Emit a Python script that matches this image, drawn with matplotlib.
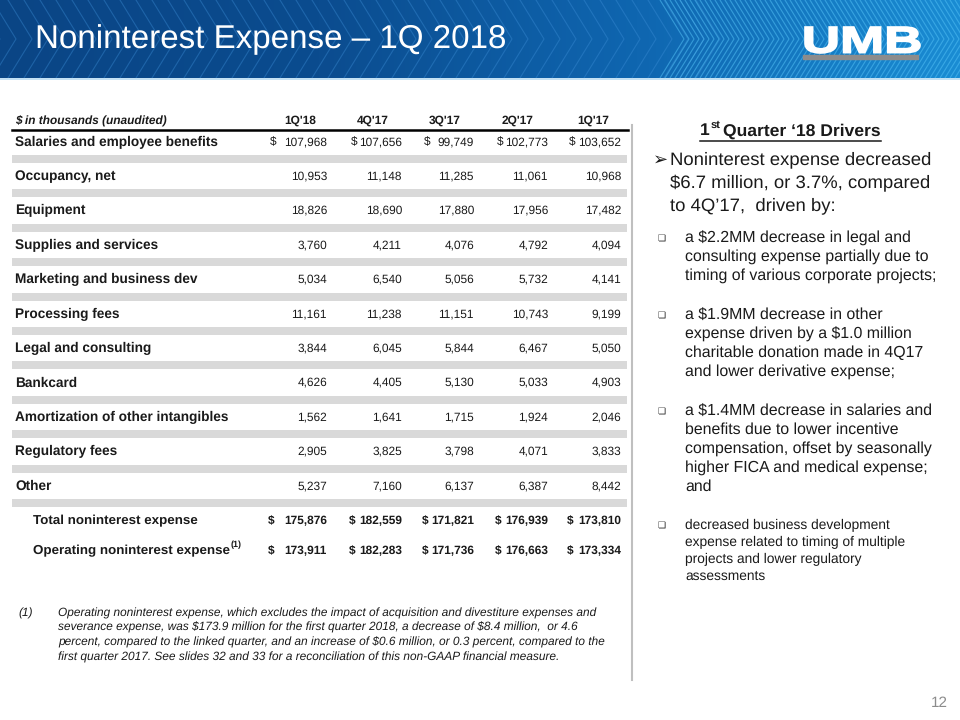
import numpy as np
import matplotlib.pyplot as plt
from matplotlib.colors import LinearSegmentedColormap
from matplotlib.textpath import TextPath
from matplotlib.patches import PathPatch
from matplotlib.font_manager import FontProperties
from matplotlib.transforms import Affine2D

plt.rcParams['font.family'] = ['Liberation Sans', 'DejaVu Sans']
plt.rcParams['text.parse_math'] = False
plt.rcParams['text.hinting'] = 'no_hinting'

# dados da tabela ($ in thousands)
trimestres = ["1Q'18", "4Q'17", "3Q'17", "2Q'17", "1Q'17"]
linhas = ['Salaries and employee benefits', 'Occupancy, net', 'Equipment',
          'Supplies and services', 'Marketing and business dev', 'Processing fees',
          'Legal and consulting', 'Bankcard', 'Amortization of other intangibles',
          'Regulatory fees', 'Other']
q1_18 = [107968, 10953, 18826, 3760, 5034, 11161, 3844, 4626, 1562, 2905, 5237]
q4_17 = [107656, 11148, 18690, 4211, 6540, 11238, 6045, 4405, 1641, 3825, 7160]
q3_17 = [99749, 11285, 17880, 4076, 5056, 11151, 5844, 5130, 1715, 3798, 6137]
q2_17 = [102773, 11061, 17956, 4792, 5732, 10743, 6467, 5033, 1924, 4071, 6387]
q1_17 = [103652, 10968, 17482, 4094, 4141, 9199, 5050, 4903, 2046, 3833, 8442]
total_nie = [175876, 182559, 171821, 176939, 173810]
operating_nie = [173911, 182283, 171736, 176663, 173334]

colunas = [q1_18, q4_17, q3_17, q2_17, q1_17]

fig = plt.figure(figsize=(9.6, 7.2), dpi=100)
ax = fig.add_axes([0, 0, 1, 1])
ax.set_xlim(0, 960)
ax.set_ylim(720, 0)
ax.axis('off')
rend = fig.canvas.get_renderer()
inv = ax.transData.inverted()


def largura(t):
    bb = t.get_window_extent(renderer=rend).transformed(inv)
    return bb.x0, bb.x1


# faixa azul do topo
cmap = LinearSegmentedColormap.from_list('umb', ['#0a4585', '#0b4c8f', '#0f66b0', '#1a8cd3'])
grad = np.linspace(0, 1, 256).reshape(1, -1)
ax.imshow(grad, cmap=cmap, extent=[0, 960, 78, 0], aspect='auto', zorder=0)
for x0 in np.arange(-40, 700, 16):
    ax.plot([x0, x0 + 24, x0], [0, 39, 78], color='#3d8fd8', lw=0.8, alpha=0.4, zorder=1)
for x0 in np.arange(660, 980, 5):
    ax.plot([x0, x0 + 24, x0], [0, 39, 78], color='#52c0f5', lw=0.8, alpha=0.55, zorder=1)
ax.plot([0, 960], [78.5, 78.5], color='#b9dcf2', lw=1.2, zorder=2)

ax.text(35, 40, 'Noninterest Expense \u2013 1Q 2018', color='white', fontsize=23.9,
        va='center', ha='left', zorder=3)

# logo UMB esticado
tp = TextPath((0, 0), 'UMB', size=10, prop=FontProperties(family='Liberation Sans', weight='bold'))
ext = tp.get_extents()
sx = 115 / ext.width
sy = 26 / ext.height
trans = Affine2D().translate(-ext.x0, -ext.y0).scale(sx, -sy).translate(805, 53) + ax.transData
ax.add_patch(PathPatch(tp, facecolor='white', edgecolor='white', lw=1.2, transform=trans, zorder=3))
ax.fill_between([803, 918], 55, 58.5, color='#8c8c8c', zorder=3)

# tabela
dir_col = [327, 402, 474, 548, 621]
dolar_col = [268, 349, 422, 495, 567]
cab_col = [300, 373, 445, 518, 593]
cor_txt = '#1a1a1a'

ax.text(15, 121, '$ in thousands (unaudited)', fontsize=8.6, style='italic',
        fontweight='bold', va='center', color=cor_txt)
for i, q in enumerate(trimestres):
    ax.text(cab_col[i], 121, q, fontsize=8.6, fontweight='bold', ha='center', va='center', color=cor_txt)
ax.plot([12, 628], [129.5, 129.5], color='black', lw=1.8)

passo = 34.4
for r, nome in enumerate(linhas):
    y = 142 + r * passo
    ax.text(15, y, nome, fontsize=9.8, fontweight='bold', va='center', color=cor_txt)
    ax.fill_between([12, 627], y + 13, y + 21, color='#d9d9d9', lw=0)
    for c in range(5):
        v = colunas[c][r]
        ax.text(dir_col[c], y, f'{v:,}', fontsize=8.6, ha='right', va='center', color=cor_txt)
        if r == 0:
            ax.text(dolar_col[c] + 2, y, '$', fontsize=8.6, ha='left', va='center', color=cor_txt)

for y, nome, vals in [(521, 'Total noninterest expense', total_nie),
                      (551, 'Operating noninterest expense', operating_nie)]:
    t = ax.text(33, y, nome, fontsize=9.6, fontweight='bold', va='center', color=cor_txt)
    for c in range(5):
        ax.text(dir_col[c], y, f'{vals[c]:,}', fontsize=8.6, fontweight='bold',
                ha='right', va='center', color=cor_txt)
        ax.text(dolar_col[c], y, '$', fontsize=8.6, fontweight='bold', ha='left', va='center', color=cor_txt)

ax.text(largura(t)[1] + 1, 545, '(1)', fontsize=6.5, fontweight='bold', va='center', color=cor_txt)

# nota de rodape
ax.text(18, 613, '(1)', fontsize=8.6, style='italic', va='center', color=cor_txt)
nota = ['Operating noninterest expense, which excludes the impact of acquisition and divestiture expenses and',
        'severance expense, was $173.9 million for the first quarter 2018, a decrease of $8.4 million,  or 4.6',
        'percent, compared to the linked quarter, and an increase of $0.6 million, or 0.3 percent, compared to the',
        'first quarter 2017. See slides 32 and 33 for a reconciliation of this non-GAAP financial measure.']
for i, s in enumerate(nota):
    ax.text(58, 613 + i * 14.8, s, fontsize=8.6, style='italic', va='center', color=cor_txt)

# linha vertical
ax.plot([632, 632], [125, 680], color='#bfbfbf', lw=1.5)

# painel direito: titulo com sobrescrito
t1 = ax.text(700, 131, '1', fontsize=12.6, fontweight='bold', ha='left', va='center', color=cor_txt)
x1 = largura(t1)[1]
t2 = ax.text(x1 + 0.5, 125.5, 'st', fontsize=8, fontweight='bold', ha='left', va='center', color=cor_txt)
x2 = largura(t2)[1]
t3 = ax.text(x2 + 3, 131, 'Quarter \u201818 Drivers', fontsize=12.6, fontweight='bold',
             ha='left', va='center', color=cor_txt)
x3 = largura(t3)[1]
ax.plot([700, x3], [140.5, 140.5], color=cor_txt, lw=1.1)

ax.text(653, 160, '\u27a2', fontsize=13, va='center', color=cor_txt, family=['DejaVu Sans'])
for i, s in enumerate(['Noninterest expense decreased', '$6.7 million, or 3.7%, compared',
                       'to 4Q\u201917,  driven by:']):
    ax.text(670, 160 + i * 23, s, fontsize=13.3, va='center', color=cor_txt)

itens = [(238, 11.4, 19, ['a $2.2MM decrease in legal and', 'consulting expense partially due to',
                          'timing of various corporate projects;']),
         (315, 11.4, 19, ['a $1.9MM decrease in other', 'expense driven by a $1.0 million',
                          'charitable donation made in 4Q17', 'and lower derivative expense;']),
         (411, 11.4, 19, ['a $1.4MM decrease in salaries and', 'benefits due to lower incentive',
                          'compensation, offset by seasonally', 'higher FICA and medical expense;', 'and']),
         (525, 9.9, 17, ['decreased business development', 'expense related to timing of multiple',
                         'projects and lower regulatory', 'assessments'])]
for y0, fs, dy, ls in itens:
    ax.text(657, y0 + 1, '\u274f', fontsize=6.5, va='center', color=cor_txt, family=['DejaVu Sans'])
    for i, s in enumerate(ls):
        ax.text(685, y0 + i * dy, s, fontsize=fs, va='center', color=cor_txt)

ax.text(948, 703, '12', fontsize=11, ha='right', va='center', color='#8c8c8c')

fig.savefig('out.png', dpi=100)
